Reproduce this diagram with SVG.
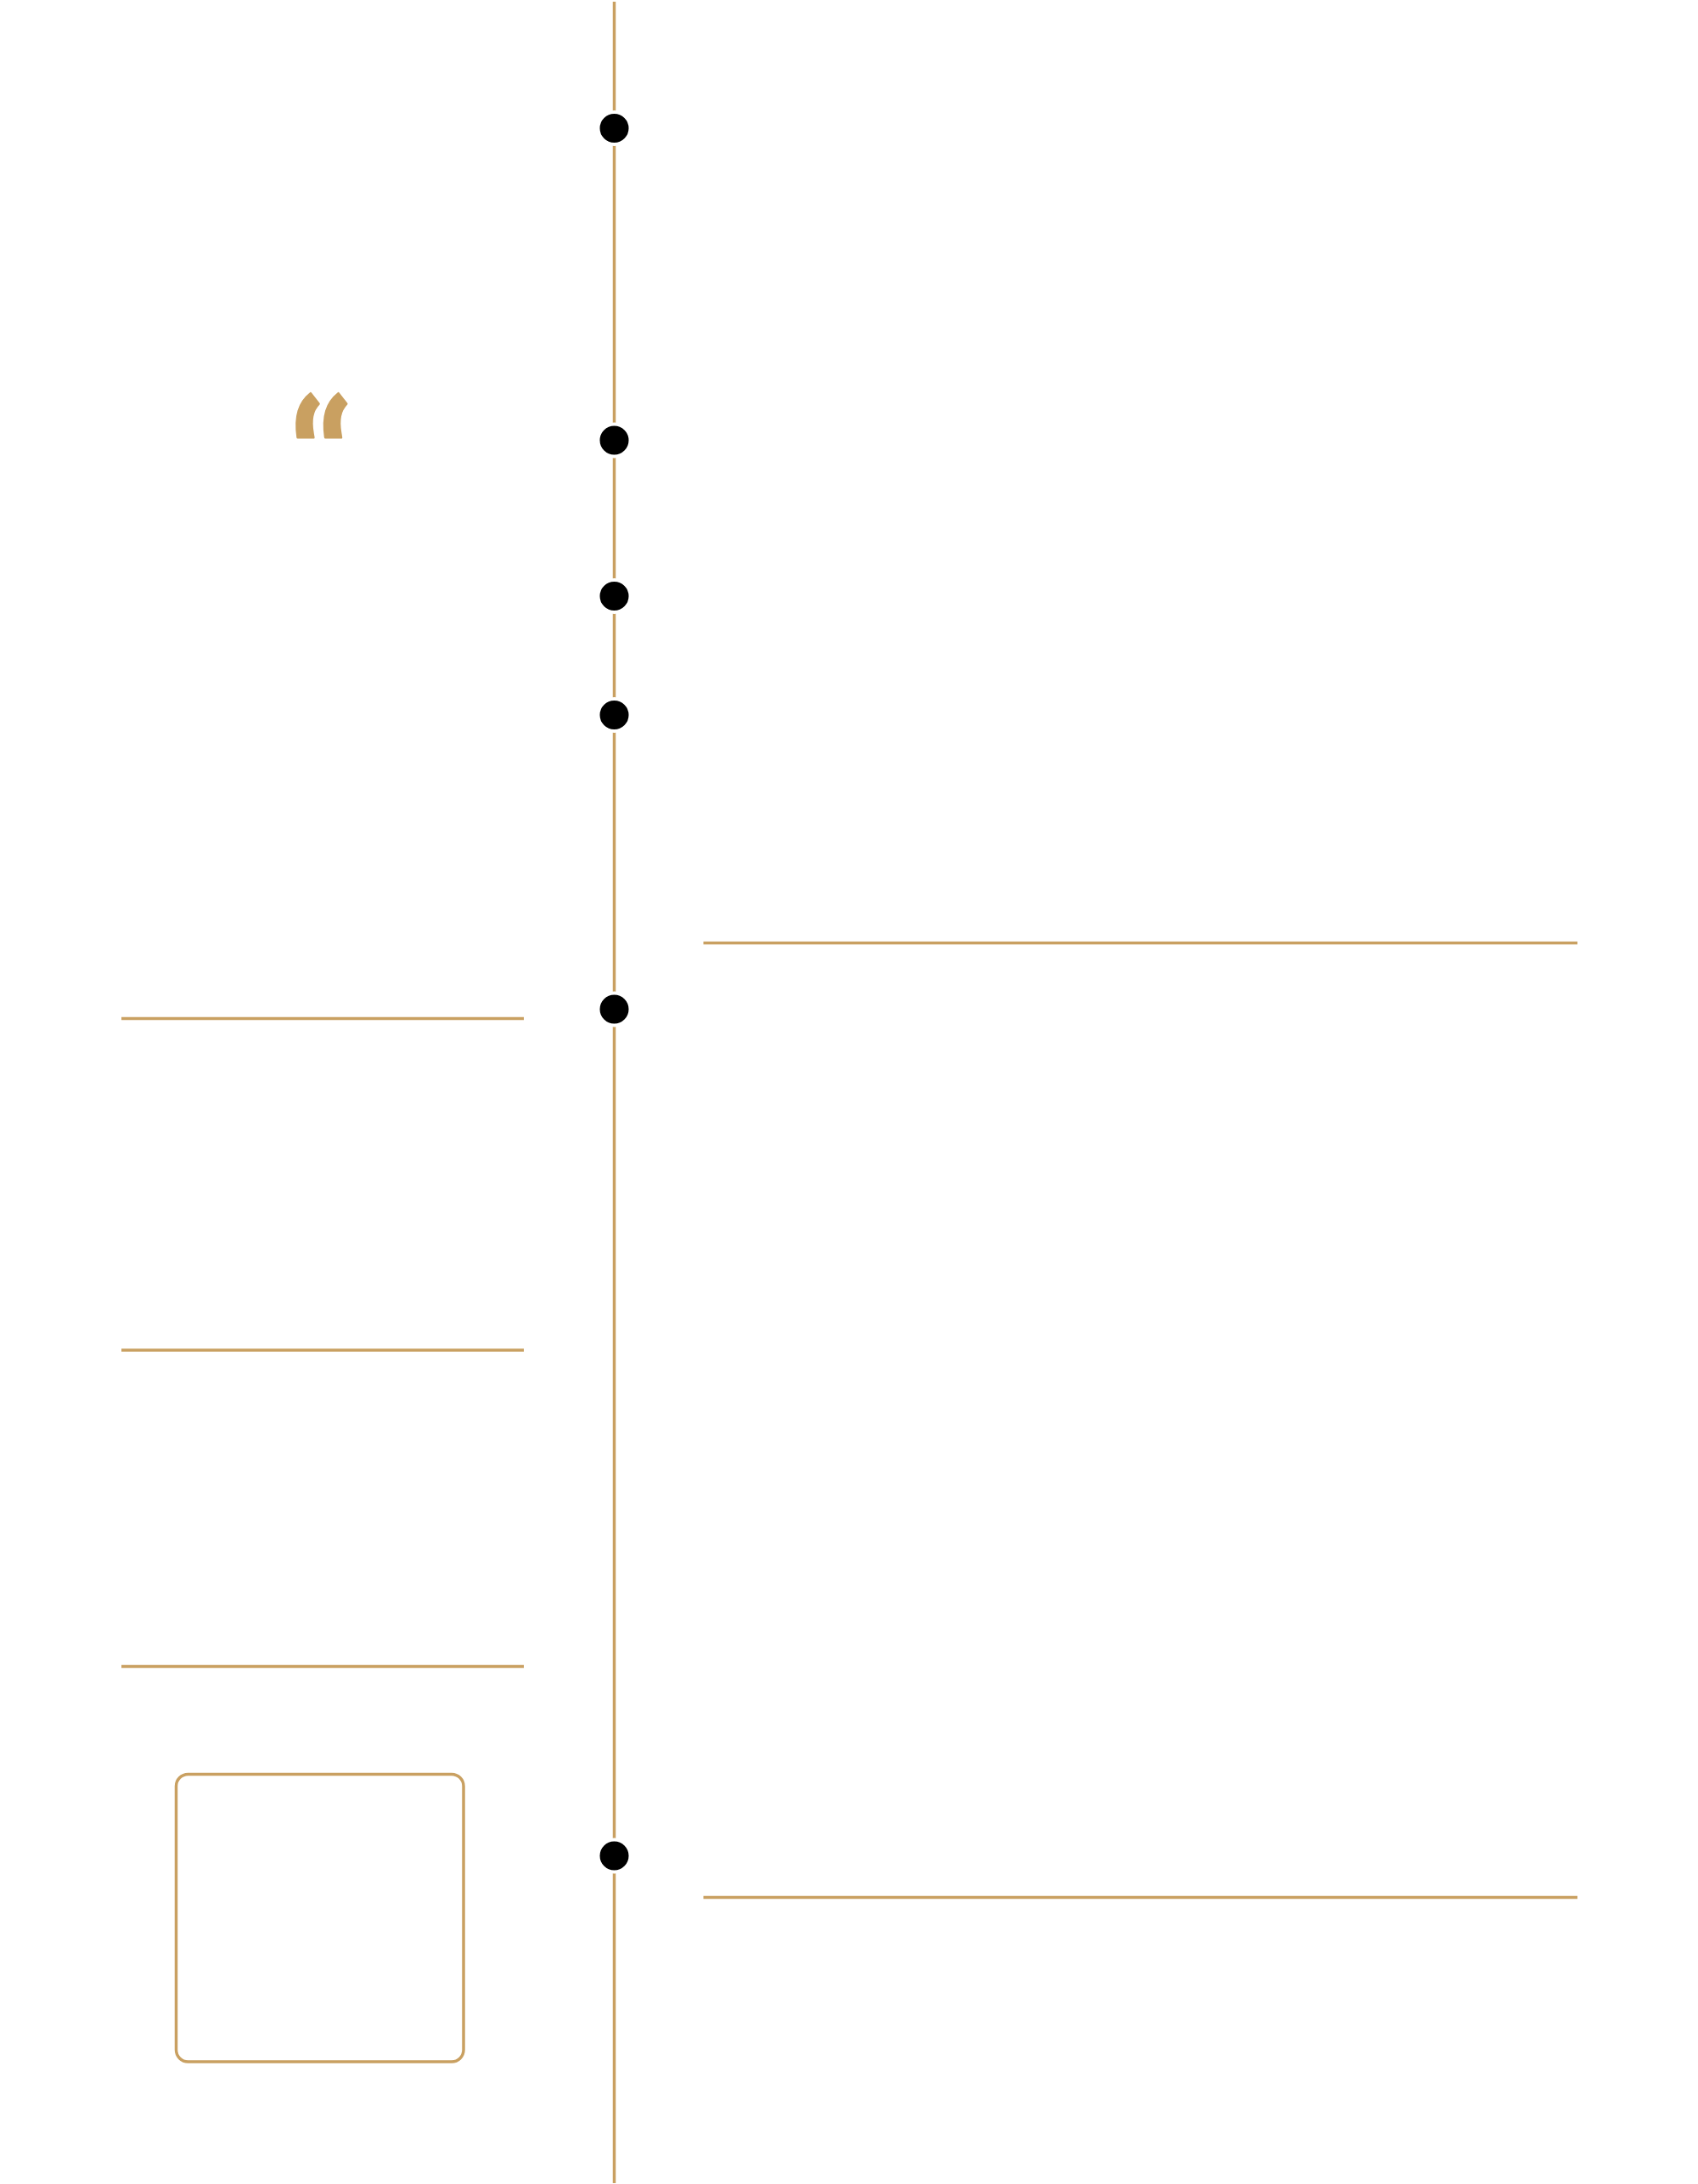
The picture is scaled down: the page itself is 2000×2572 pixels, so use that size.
<svg xmlns="http://www.w3.org/2000/svg" width="2000" height="2572" viewBox="0 0 2000 2572">
<style>
.ln{stroke:#c9a061;stroke-width:3.5;fill:none}
.dot{fill:#000;stroke:#fff;stroke-width:4}
.q{font-family:"DejaVu Serif",serif;font-weight:bold;fill:#c9a061;stroke:#c9a061;stroke-width:3;stroke-linejoin:round}
</style>
<rect width="2000" height="2572" fill="#fff"/>
<g id="connectors">
<line class="ln" x1="723.5" y1="2" x2="723.5" y2="2571"/>
<line class="ln" x1="828.5" y1="1110.5" x2="1858" y2="1110.5"/>
<line class="ln" x1="828.5" y1="2234.5" x2="1858" y2="2234.5"/>
<line class="ln" x1="143" y1="1199.5" x2="617" y2="1199.5"/>
<line class="ln" x1="143" y1="1590" x2="617" y2="1590"/>
<line class="ln" x1="143" y1="1962.5" x2="617" y2="1962.5"/>
</g>
<g id="dot1"><circle class="dot" cx="723.5" cy="151" r="19"/></g>
<g id="dot2"><circle class="dot" cx="723.5" cy="518.5" r="19"/></g>
<g id="dot3"><circle class="dot" cx="723.5" cy="702" r="19"/></g>
<g id="dot4"><circle class="dot" cx="723.5" cy="842" r="19"/></g>
<g id="dot5"><circle class="dot" cx="723.5" cy="1188.5" r="19"/></g>
<g id="dot6"><circle class="dot" cx="723.5" cy="2185.5" r="19"/></g>
<g id="quote"><text class="q" transform="translate(396,597) scale(0.8,1) skewX(12)" x="0" y="0" font-size="180" text-anchor="middle">“</text></g>
<g id="box"><rect class="ln" x="207.5" y="2089.5" width="338.5" height="338.5" rx="14"/></g>
</svg>
